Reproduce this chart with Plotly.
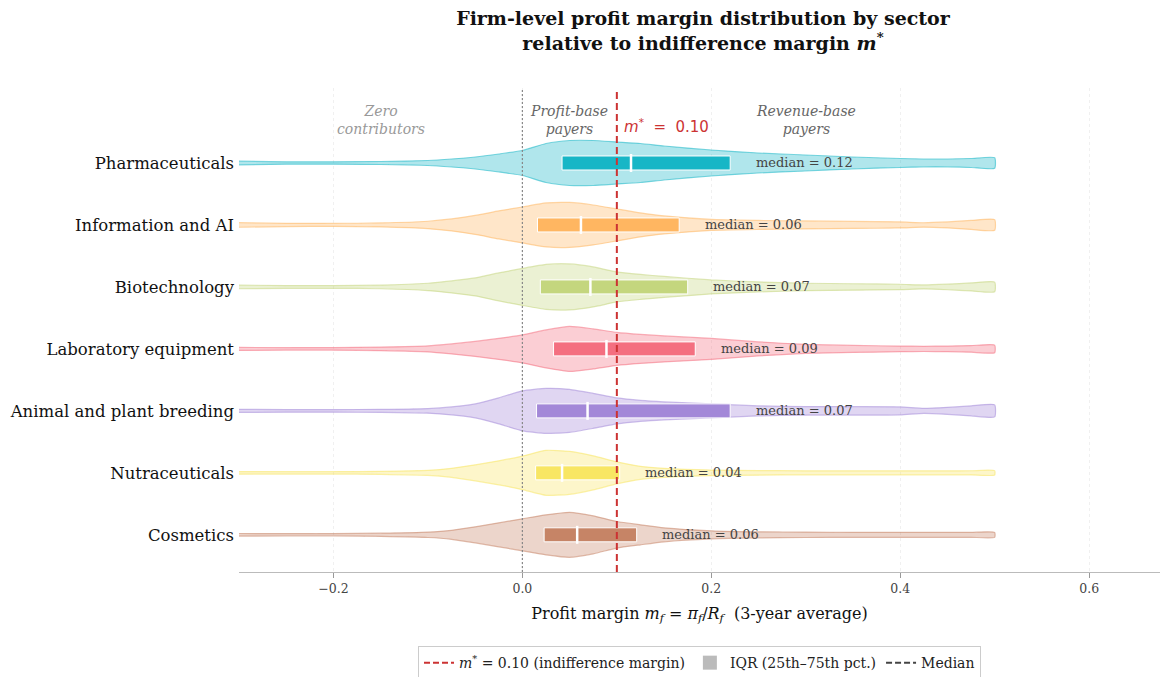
import plotly.graph_objects as go

# ---------------- data ----------------
sectors = ["Pharmaceuticals", "Information and AI", "Biotechnology",
           "Laboratory equipment", "Animal and plant breeding",
           "Nutraceuticals", "Cosmetics"]
q1 = [0.042, 0.016, 0.019, 0.033, 0.015, 0.014, 0.023]
q3 = [0.220, 0.166, 0.175, 0.183, 0.220, 0.103, 0.121]
medians = [0.115, 0.062, 0.072, 0.089, 0.069, 0.042, 0.058]
median_labels = ["0.12", "0.06", "0.07", "0.09", "0.07", "0.04", "0.06"]
colors = ["#17b6c6", "#ffb661", "#c4d67e", "#f46f80", "#a388d8", "#f8e663", "#c68466"]

M_STAR = 0.10

# density profile (relative half-width) evaluated on a margin grid
grid = [-0.30, -0.25, -0.20, -0.15, -0.10, -0.075, -0.05, -0.025, 0.0, 0.025,
        0.05, 0.075, 0.10, 0.125, 0.15, 0.20, 0.25, 0.30, 0.35, 0.40,
        0.425, 0.45, 0.475, 0.50]
dens_pharma = [1.8, 1.2, 1.2, 1.5, 2.5, 4, 6, 9, 12.5, 19.5, 22.5, 22.5, 21, 19.5,
               17, 13, 10, 8, 6, 4.5, 4, 4, 4.5, 5.3]
dens_info = [2.3, 1.6, 1.5, 2, 3.7, 6, 9.5, 14, 18, 22, 22.5, 20, 16, 12, 9, 5.5,
             4.5, 4, 3.5, 3, 2.2, 3, 4.5, 5.3]
dens_biotech = [1.8, 1.4, 1.4, 1.8, 3.7, 6, 9, 14, 18.5, 22.5, 23, 20, 15, 12.5,
                10.5, 7, 5, 3.7, 3.2, 2.7, 2, 2.8, 4, 4.8]
dens_lab = [1.5, 1.2, 1.3, 1.8, 3, 5, 7.5, 10.5, 14, 19, 22.5, 20, 16.5, 14.5, 13,
            10.5, 7, 4.5, 3.5, 2.8, 2.6, 2.8, 3.3, 3.8]
dens_animal = [1.5, 1.3, 1.3, 1.5, 2.3, 4, 7, 13, 20, 22.5, 21.5, 17.5, 13, 10.5,
               9, 7, 5, 4.3, 4.2, 4, 2.5, 3.5, 5, 6]
dens_nutra = [1.3, 1.2, 1.2, 1.5, 2.5, 4.5, 8, 12, 16.7, 22.5, 21.5, 17, 11, 6.5,
              4.5, 2.8, 2.3, 2, 2, 2, 2, 2, 2.1, 2.2]
dens_cosm = [1.3, 1.2, 1.2, 1.6, 2.7, 4.5, 8, 12, 16, 20, 22.5, 19, 13.3, 10, 7,
             4, 3, 2.7, 2.5, 2.5, 2.5, 2.5, 2.5, 2.5]
densities = [dens_pharma, dens_info, dens_biotech, dens_lab, dens_animal,
             dens_nutra, dens_cosm]

# ---------------- styling helpers ----------------
DENS_SCALE = 1.0 / 62.0   # density units -> category-axis units
BOX_HALF = 0.113
MED_HALF = 0.145
FONT = "DejaVu Serif"


def rgba(hex_color, a):
    h = hex_color.lstrip("#")
    r, g, b = int(h[0:2], 16), int(h[2:4], 16), int(h[4:6], 16)
    return f"rgba({r},{g},{b},{a})"


n = len(sectors)
ypos = [n - 1 - i for i in range(n)]

fig = go.Figure()

for i in range(n):
    c = ypos[i]
    d = densities[i]
    xs = list(grid) + list(reversed(grid))
    ys = [c + v * DENS_SCALE for v in d] + [c - v * DENS_SCALE for v in reversed(d)]
    fig.add_trace(go.Scatter(
        x=xs, y=ys, mode="lines", fill="toself",
        fillcolor=rgba(colors[i], 0.34),
        line=dict(color=rgba(colors[i], 0.55), width=1.2, shape="spline", smoothing=0.5),
        showlegend=False, hoverinfo="skip"))

shapes = []
annotations = []
for i in range(n):
    c = ypos[i]
    shapes.append(dict(type="rect", xref="x", yref="y", x0=q1[i], x1=q3[i],
                       y0=c - BOX_HALF, y1=c + BOX_HALF, fillcolor=colors[i],
                       line=dict(color="white", width=1), layer="above"))
    shapes.append(dict(type="line", xref="x", yref="y", x0=medians[i], x1=medians[i],
                       y0=c - MED_HALF, y1=c + MED_HALF,
                       line=dict(color="white", width=2.5), layer="above"))
    annotations.append(dict(x=q3[i] + 0.025, y=c, xref="x", yref="y",
                            text=f"median = {median_labels[i]}", showarrow=False,
                            xanchor="left", yanchor="middle",
                            font=dict(family=FONT, size=13, color="#444444")))

# reference lines
shapes.append(dict(type="line", xref="x", yref="paper", x0=0, x1=0, y0=0, y1=1,
                   line=dict(color="#888888", width=1.2, dash="2px,2px"), layer="above"))
shapes.append(dict(type="line", xref="x", yref="paper", x0=M_STAR, x1=M_STAR, y0=0, y1=1,
                   line=dict(color="#cc3333", width=2, dash="7px,4px"), layer="above"))

# region labels
annotations += [
    dict(x=-0.15, y=6.69, xref="x", yref="y", text="<i>Zero<br>contributors</i>",
         showarrow=False, font=dict(family=FONT, size=14, color="#999999")),
    dict(x=0.049, y=6.69, xref="x", yref="y", text="<i>Profit-base<br>payers</i>",
         showarrow=False, font=dict(family=FONT, size=14, color="#666666")),
    dict(x=0.30, y=6.69, xref="x", yref="y", text="<i>Revenue-base<br>payers</i>",
         showarrow=False, font=dict(family=FONT, size=14, color="#666666")),
    dict(x=0.105, y=6.59, xref="x", yref="y", xanchor="left",
         text="<i>m</i><sup>*</sup>  =  0.10",
         showarrow=False, font=dict(family="DejaVu Sans", size=15, color="#cc3333")),
]

# legend entries
fig.add_trace(go.Scatter(x=[None], y=[None], mode="lines",
                         line=dict(color="#cc3333", width=2, dash="6px,3px"),
                         name="<i>m</i><sup>*</sup> = 0.10 (indifference margin)"))
fig.add_trace(go.Scatter(x=[None], y=[None], mode="markers",
                         marker=dict(symbol="square", size=14, color="#bbbbbb"),
                         name="IQR (25th–75th pct.)"))
fig.add_trace(go.Scatter(x=[None], y=[None], mode="lines",
                         line=dict(color="#444444", width=2, dash="6px,3px"),
                         name="Median"))

fig.update_layout(
    width=1161, height=677,
    margin=dict(l=239, r=1, t=88, b=105, autoexpand=False),
    paper_bgcolor="white", plot_bgcolor="white",
    font=dict(family=FONT, color="#222222"),
    title=dict(text="<b>Firm-level profit margin distribution by sector<br>"
                    "relative to indifference margin <i>m</i><sup>*</sup></b>",
               x=0.6055, xanchor="center", yref="container", y=0.9625, yanchor="top",
               font=dict(family=FONT, size=19, color="#111111")),
    shapes=shapes, annotations=annotations,
    legend=dict(orientation="h", x=0.5, xanchor="center", y=-0.153, yanchor="top",
                bordercolor="#cccccc", borderwidth=1, bgcolor="white",
                font=dict(family=FONT, size=14, color="#222222"),
                itemwidth=30),
    xaxis=dict(range=[-0.3, 0.675], tick0=0, dtick=0.2, tickformat=".1f",
               showgrid=True, gridcolor="#f0f0f0", griddash="dot", gridwidth=1,
               zeroline=False, showline=True, linecolor="#bbbbbb", linewidth=1,
               ticks="outside", ticklen=5, tickcolor="#999999",
               tickfont=dict(family=FONT, size=12.5, color="#444444"),
               title=dict(text="Profit margin <i>m<sub>f</sub></i> = <i>π<sub>f</sub></i>/<i>R<sub>f</sub></i>  (3-year average)",
                          font=dict(family=FONT, size=16, color="#111111"), standoff=12)),
    yaxis=dict(range=[-0.6, 7.21], tickvals=ypos, ticktext=sectors,
               showgrid=False, zeroline=False, showline=False, ticks="",
               tickfont=dict(family=FONT, size=16.5, color="#111111"),
               ticklabelstandoff=4),
)

fig.write_html("out.html", config={"displayModeBar": False},
               post_script="document.body.style.margin='0';document.body.style.padding='0';")
